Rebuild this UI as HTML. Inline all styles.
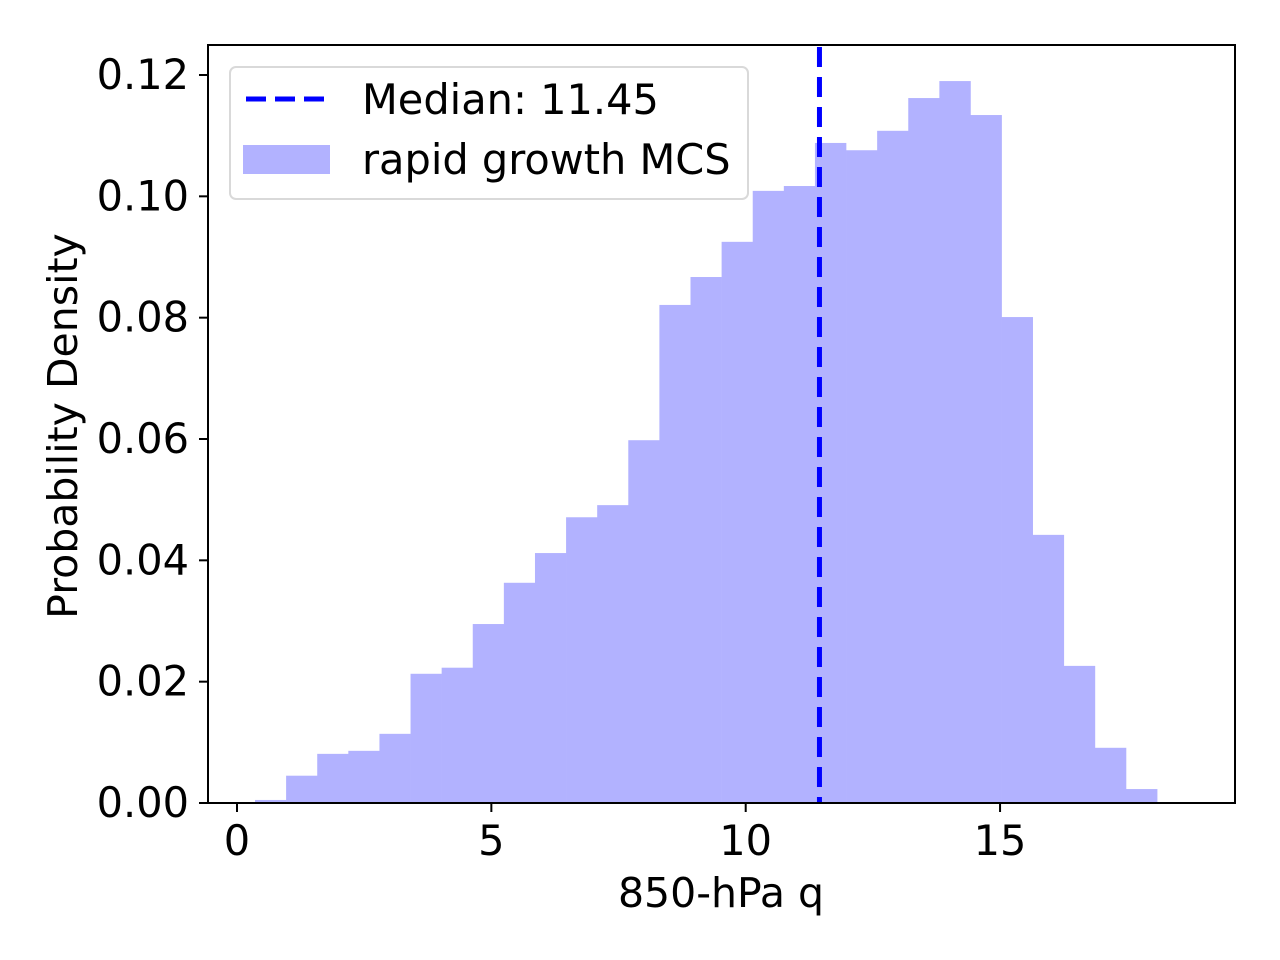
<!DOCTYPE html>
<html><head><meta charset="utf-8"><style>
html,body{margin:0;padding:0;background:#fff;}
svg{display:block;font-family:"DejaVu Sans","Liberation Sans",sans-serif;}
</style></head><body>
<svg id="chart" width="1280" height="960" xmlns="http://www.w3.org/2000/svg" style="position:absolute;left:0;top:0">
<g id="bars"></g>
<g id="axes"></g>
<text x="721" y="907" text-anchor="middle" font-size="41px">850-hPa q</text>
<text transform="translate(77,426) rotate(-90)" text-anchor="middle" font-size="41px">Probability Density</text>
<g>
<rect x="230" y="67" width="518" height="132" rx="6" fill="#fff" fill-opacity="0.8" stroke="#d9d9d9" stroke-width="2"/>
<line x1="246" x2="326" y1="99" y2="99" stroke="#0000ff" stroke-width="5" stroke-dasharray="20,9"/>
<text x="362" y="114" font-size="41.5px">Median: 11.45</text>
<rect x="243" y="145" width="87" height="29" fill="#b2b2ff"/>
<text x="362" y="174" font-size="41.5px">rapid growth MCS</text>
</g>
</svg>
<script>
const binStart = 0.354;
const binWidth = 0.6115;
const densities = [0.0005,0.0045,0.0081,0.0086,0.0114,0.0213,0.0223,0.0295,0.0363,0.0412,0.0471,0.0491,0.0598,0.0821,0.0867,0.0925,0.1009,0.1017,0.1088,0.1076,0.1108,0.1162,0.1190,0.1134,0.0801,0.0442,0.0226,0.0091,0.0023];
const xTicks = [0,5,10,15];
const yTicks = [0,0.02,0.04,0.06,0.08,0.10,0.12];
const yTickLabels = ["0.00","0.02","0.04","0.06","0.08","0.10","0.12"];
const median = 11.45;

const NS="http://www.w3.org/2000/svg";
const L=208,R=1235,T=45,B=803;
const xs=v=>237+v*50.87;
const ys=v=>803-v*(728/0.12);
function mk(tag,attrs,parent){const e=document.createElementNS(NS,tag);for(const k in attrs)e.setAttribute(k,attrs[k]);parent.appendChild(e);return e;}
const bars=document.getElementById('bars');
densities.forEach((d,i)=>{
  const x0=xs(binStart+i*binWidth),x1=xs(binStart+(i+1)*binWidth);
  const r=mk('rect',{x:x0,y:ys(d),width:x1-x0+0.3,height:B-ys(d),fill:'#b2b2ff'},bars);
  
  
});
const ax=document.getElementById('axes');
const ml=mk('line',{x1:xs(median),x2:xs(median),y1:T,y2:B,stroke:'#0000ff','stroke-width':5,'stroke-dasharray':'20,10','stroke-dashoffset':-2},ax);


const fr=mk('rect',{x:L,y:T,width:R-L,height:B-T,fill:'none',stroke:'#000','stroke-width':2},ax);


xTicks.forEach(v=>{
  mk('line',{x1:xs(v),x2:xs(v),y1:B,y2:B+9,stroke:'#000','stroke-width':2},ax);
  const t=mk('text',{x:xs(v),y:B+52,'text-anchor':'middle','font-size':'41.5px'},ax);
  t.textContent=v;
  
  
});
yTicks.forEach((v,i)=>{
  mk('line',{x1:L-9,x2:L,y1:ys(v),y2:ys(v),stroke:'#000','stroke-width':2},ax);
  const t=mk('text',{x:L-19,y:ys(v)+14,'text-anchor':'end','font-size':'41.5px'},ax);
  t.textContent=yTickLabels[i];
  
  
});
</script>
</body></html>
